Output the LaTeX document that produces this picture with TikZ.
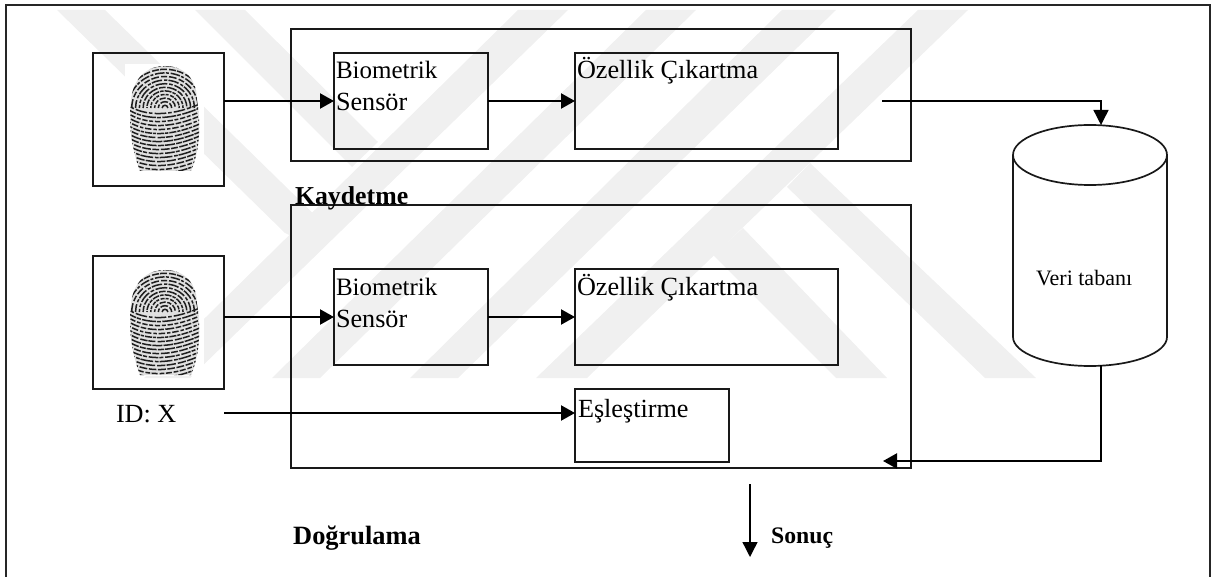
\documentclass[tikz,border=0pt]{standalone}
\usepackage{fontspec}
\setmainfont{Liberation Serif}
\usetikzlibrary{arrows.meta,calc}
\definecolor{wm}{HTML}{F0F0F0}
\tikzset{
  boxn/.style={draw=black!90,line width=1.7pt,anchor=north west,inner sep=0pt,outer sep=0pt},
  txt/.style={anchor=base west,inner sep=0pt,outer sep=0pt},
  fa/.style={txt,font=\fontsize{25}{30}\selectfont},
  fb/.style={txt,font=\fontsize{26.2}{30}\selectfont},
  boldtxt/.style={anchor=base west,inner sep=0pt,outer sep=0pt,font=\fontsize{25.8}{30}\selectfont\bfseries},
  conn/.style={line width=2.2pt,-{Triangle[length=14pt,width=15pt]}},
  thinconn/.style={line width=1.4pt,-{Triangle[length=15pt,width=15pt]}},
  wmark/.style={fill=wm,draw=none}
}
\newcommand{\fingerprint}[3]{%
  \begin{scope}[shift={(#1,#2)}]
    \pgfmathsetseed{#3}
    \fill[white] (125,64) rectangle (204,172);
    \begin{scope}
      \path[clip] (165,66) .. controls (185,66) and (197,80) .. (197,100)
         .. controls (201,125) and (200,150) .. (191,171)
         -- (140,171) .. controls (132,150) and (128,125) .. (131,100)
         .. controls (133,80) and (145,66) .. (165,66) -- cycle;
      \fill[black!12] (120,60) rectangle (210,175);
      % upper loop ridges
      \foreach \r in {3,7,...,63}{
        \pgfmathsetmacro{\aa}{3+9*rnd}\pgfmathsetmacro{\bb}{0.8+1.4*rnd}
        \pgfmathsetmacro{\cc}{2+6*rnd}\pgfmathsetmacro{\dd}{0.8+1.6*rnd}
        \pgfmathsetmacro{\ph}{10*rnd}
        \draw[line width=1.5pt,black!88,dash pattern=on \aa pt off \bb pt on \cc pt off \dd pt,dash phase=\ph pt]
          (165,108) ++(-\r*0.95,0) arc[start angle=180,end angle=360,x radius=\r*0.95,y radius=\r*0.9];
        }
      % lower ridges
      \foreach \yy in {112,116,...,176}{
        \pgfmathsetmacro{\aa}{4+10*rnd}\pgfmathsetmacro{\bb}{0.8+1.4*rnd}
        \pgfmathsetmacro{\cc}{3+8*rnd}\pgfmathsetmacro{\dd}{0.8+1.4*rnd}
        \pgfmathsetmacro{\ph}{10*rnd}
        \draw[line width=1.5pt,black!88,dash pattern=on \aa pt off \bb pt on \cc pt off \dd pt,dash phase=\ph pt]
          (126,\yy-8) .. controls (145,\yy+6) and (175,\yy+4) .. (204,\yy-10);
        }
    \end{scope}
  \end{scope}%
}
\begin{document}
\begin{tikzpicture}[x=1pt,y=-1pt]
  \useasboundingbox (0,0) rectangle (1212,577);
  % watermark
  \fill[wmark] (57,10) -- (105,10) -- (325,225) -- (300,240) -- (285,233) -- cycle;
  \fill[wmark] (195,10) -- (245,10) -- (378,142) -- (352,167) -- cycle;
  \fill[wmark] (518,10) -- (568,10) -- (190,378) -- (144,378) -- cycle;
  \fill[wmark] (646,10) -- (696,10) -- (320,378) -- (272,378) -- cycle;
  \fill[wmark] (782,10) -- (836,10) -- (458,378) -- (410,378) -- cycle;
  \fill[wmark] (918,10) -- (968,10) -- (587,378) -- (536,378) -- cycle;
  \fill[wmark] (810,163) -- (1036,378) -- (985,378) -- (787,187) -- cycle;
  \fill[wmark] (743,228) -- (887,378) -- (836,378) -- (713,255) -- cycle;
  % fingerprints
  \fingerprint{0}{0}{7}
  \fingerprint{0}{204}{7}
  % frame (open at the bottom)
  \draw[black!85,line width=1.7pt] (6,577) -- (6,5) -- (1210,5) -- (1210,577);
  % boxes
  \node[boxn,minimum width=131pt,minimum height=133pt] (fpa) at (93,53) {};
  \node[boxn,minimum width=131pt,minimum height=133pt] (fpb) at (93,256) {};
  \node[boxn,minimum width=620pt,minimum height=132pt] (enrol) at (291,29) {};
  \node[boxn,minimum width=620pt,minimum height=263pt] (verify) at (291,205) {};
  \node[boxn,minimum width=154pt,minimum height=96pt] (sena) at (334,53) {};
  \node[boxn,minimum width=263pt,minimum height=96pt] (feaa) at (575,53) {};
  \node[boxn,minimum width=154pt,minimum height=96pt] (senb) at (334,269) {};
  \node[boxn,minimum width=263pt,minimum height=96pt] (feab) at (575,269) {};
  \node[boxn,minimum width=154pt,minimum height=73pt] (match) at (575,389) {};
  % database cylinder
  \node[inner sep=0pt,outer sep=0pt,minimum width=154pt,minimum height=241pt,anchor=north west] (db) at (1013,125) {};
  \draw[black!90,line width=1.7pt] (1090,155) ellipse [x radius=77,y radius=30];
  \draw[black!90,line width=1.7pt] (1013,155) -- (1013,337)
     arc[start angle=180,end angle=0,x radius=77,y radius=29] -- (1167,155);
  % texts
  \node[fa] (ta) at (336,79) {Biometrik};
  \node[fb] (tb) at (336,111) {Sensör};
  \node[fb] (tc) at (577,79) {Özellik Çıkartma};
  \node[fa] (td) at (336,295) {Biometrik};
  \node[fb] (te) at (336,327) {Sensör};
  \node[fb] (tf) at (577,295) {Özellik Çıkartma};
  \node[fb] (tg) at (578,417) {Eşleştirme};
  \node[fb] (idx) at (116,422) {ID: X};
  \node[anchor=base west,inner sep=0pt,font=\fontsize{22}{24}\selectfont] (veri) at (1036,285) {Veri tabanı};
  \node[boldtxt] (kay) at (295,205) {Kaydetme};
  \node[anchor=base west,inner sep=0pt,font=\fontsize{26.4}{30}\selectfont\bfseries] (dog) at (293,544) {Doğrulama};
  \node[anchor=base west,inner sep=0pt,font=\fontsize{23.7}{28}\selectfont\bfseries] (son) at (771,543) {Sonuç};
  % connectors
  \coordinate (idstart) at (224,413);
  \coordinate (feaout) at (882,101);
  \coordinate (dbtop) at (1101,125);
  \coordinate (dbbot) at (1101,365);
  \coordinate (vin) at (883,461);
  \coordinate (resa) at (750,484);
  \coordinate (resb) at (750,557);
  \draw[conn] (fpa.east |- sena.west) -- (sena.west);
  \draw[conn] (sena.east) -- (feaa.west);
  \draw[conn] (fpb.east |- senb.west) -- (senb.west);
  \draw[conn] (senb.east) -- (feab.west);
  \draw[conn] (idstart) -- (idstart -| match.west);
  \draw[thinconn] (feaout) -| (dbtop);
  \draw[conn] (dbbot) |- (vin);
  \draw[thinconn] (resa) -- (resb);
\end{tikzpicture}
\end{document}
